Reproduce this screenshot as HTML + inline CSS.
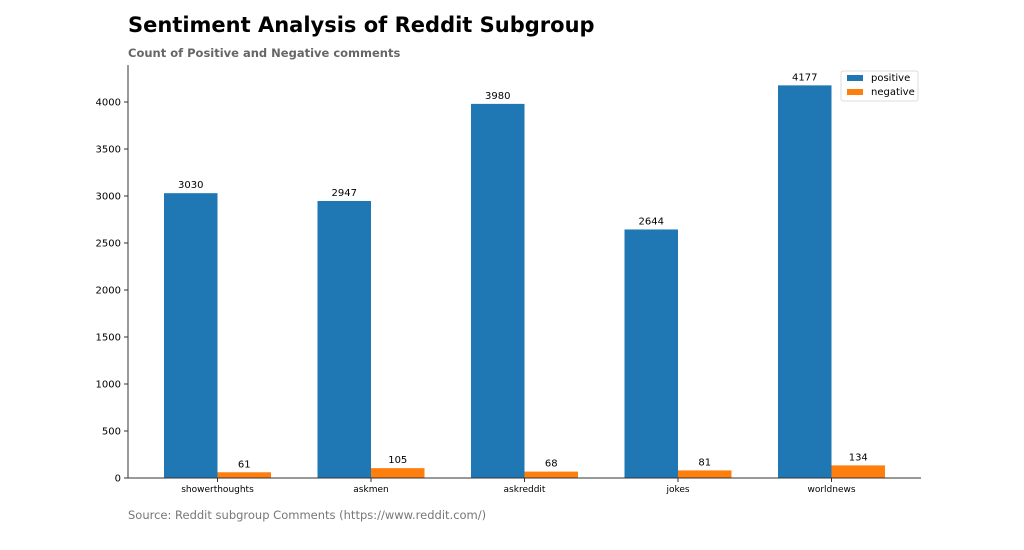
<!DOCTYPE html>
<html><head><meta charset="utf-8"><style>
body{margin:0;background:#fff;width:1024px;height:546px;overflow:hidden;font-family:"DejaVu Sans","Liberation Sans",sans-serif}
</style></head><body>
<svg id="chart" width="1024" height="546" xmlns="http://www.w3.org/2000/svg">
<text x="128" y="32" font-size="21" font-weight="bold" fill="#000">Sentiment Analysis of Reddit Subgroup</text>
<text x="128" y="57" font-size="11.5" font-weight="bold" fill="#666">Count of Positive and Negative comments</text>
<text x="128" y="519" font-size="11.5" fill="#777">Source: Reddit subgroup Comments (https://www.reddit.com/)</text>
<g id="plot"></g>
<g>
<rect x="841" y="71" width="77" height="30" fill="#fff" stroke="#ddd" rx="2"/>
<rect x="847" y="75" width="16" height="6" fill="#1f77b4"/>
<text x="871" y="81" font-size="10">positive</text>
<rect x="847" y="89" width="16" height="6" fill="#ff7f0e"/>
<text x="871" y="95" font-size="10">negative</text>
</g>
</svg>
<script>
const categories=["showerthoughts","askmen","askreddit","jokes","worldnews"];
const positive=[3030,2947,3980,2644,4177];
const negative=[61,105,68,81,134];
const yTicks=[0,500,1000,1500,2000,2500,3000,3500,4000];
const NS="http://www.w3.org/2000/svg";
const g=document.getElementById('plot');
const x0=128,x1=921,y0=478,yTop=65;
const step=153.5,bw=53.5,firstC=217.5;
const y=v=>y0-v*0.094;
const xc=i=>firstC+i*step;
function mk(t,a){const e=document.createElementNS(NS,t);for(const k in a)e.setAttribute(k,a[k]);g.appendChild(e);return e;}
yTicks.forEach(t=>{
 const l=mk('line',{x1:x0-4,x2:x0,y1:y(t),y2:y(t),stroke:'#333'});
 
 
 const tx=mk('text',{x:x0-7,y:y(t)+3.5,'font-size':10,'text-anchor':'end'});tx.textContent=t;
 
 
});
categories.forEach((c,i)=>{
 const p=mk('rect',{x:xc(i)-bw,y:y(positive[i]),width:bw,height:y0-y(positive[i]),fill:'#1f77b4'});
 
 
 const n=mk('rect',{x:xc(i),y:y(negative[i]),width:bw,height:y0-y(negative[i]),fill:'#ff7f0e'});
 
 
 const pl=mk('text',{x:xc(i)-bw/2,y:y(positive[i])-5,'font-size':10,'text-anchor':'middle'});pl.textContent=positive[i];
 
 
 const nl=mk('text',{x:xc(i)+bw/2,y:y(negative[i])-5,'font-size':10,'text-anchor':'middle'});nl.textContent=negative[i];
 
 
 const tk=mk('line',{x1:xc(i),x2:xc(i),y1:y0,y2:y0+4,stroke:'#333'});
 
 
 const xl=mk('text',{x:xc(i),y:y0+14,'font-size':9,'text-anchor':'middle'});xl.textContent=c;
 
 
});
const ax=mk('line',{x1:x0,x2:x0,y1:yTop,y2:y0,stroke:'#333'});


const bx=mk('line',{x1:x0,x2:x1,y1:y0,y2:y0,stroke:'#333'});


</script>
</body></html>
